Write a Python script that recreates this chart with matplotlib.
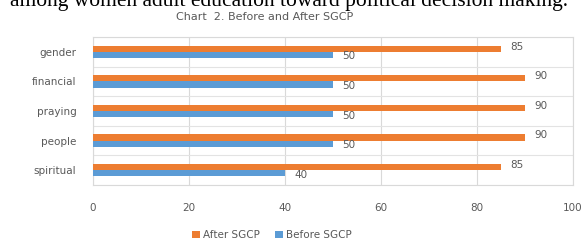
import matplotlib

matplotlib.use("Agg")

import matplotlib.pyplot as plt
import numpy as np

categories = ["spiritual", "people", "praying", "financial", "gender"]
after_sgcp = [85, 90, 90, 90, 85]
before_sgcp = [40, 50, 50, 50, 50]
x_ticks = [0, 20, 40, 60, 80, 100]

ORANGE = "#ED7D31"
BLUE = "#5B9BD5"
GRAY = "#595959"

W, H = 584, 247
fig = plt.figure(figsize=(W / 100, H / 100), dpi=100)
ax = fig.add_axes([93 / W, 1 - 185 / H, (573 - 93) / W, (185 - 37) / H])

y = np.arange(len(categories))
h = 0.21
ax.barh(y + h / 2, after_sgcp, height=h, color=ORANGE, label="After SGCP", zorder=3)
ax.barh(y - h / 2, before_sgcp, height=h, color=BLUE, label="Before SGCP", zorder=3)

for yi, v in zip(y, after_sgcp):
    ax.text(v + 2.0, yi + h / 2 + 0.07, str(v), fontsize=7.5, color=GRAY, va="center")
for yi, v in zip(y, before_sgcp):
    ax.text(v + 2.0, yi - h / 2 - 0.05, str(v), fontsize=7.5, color=GRAY, va="center")

ax.set_xlim(0, 100)
ax.set_ylim(-0.5, len(categories) - 0.5)
ax.set_xticks(x_ticks)
ax.set_yticks(y)
ax.set_yticklabels(categories)
ax.set_yticks(np.arange(-0.5, len(categories), 1), minor=True)
ax.tick_params(axis="both", which="both", length=0, labelsize=7.5, colors=GRAY)
ax.tick_params(axis="x", pad=13)
ax.tick_params(axis="y", pad=12)
ax.grid(True, axis="x", color="#D9D9D9", linewidth=0.8, zorder=0)
ax.grid(True, axis="y", which="minor", color="#E3E3E3", linewidth=0.8, zorder=0)
for s in ax.spines.values():
    s.set_color("#D9D9D9")
    s.set_linewidth(0.8)

# document text cropped at the top of the screenshot
fig.text(10 / W, 1 - 6 / H, "among women adult education toward political decision making.",
         fontsize=15.5, family="Liberation Serif", color="black", va="baseline")
fig.text(265 / W, 1 - 17 / H, "Chart  2. Before and After SGCP", fontsize=8,
         color=GRAY, ha="center", va="center")

handles, labels = ax.get_legend_handles_labels()
fig.legend(handles, labels, loc="center", bbox_to_anchor=(272 / W, 1 - 235 / H), ncol=2,
           frameon=False, fontsize=7.5, labelcolor=GRAY, handlelength=0.7,
           handleheight=0.7, handletextpad=0.3, columnspacing=1.5)

fig.savefig("out.png", dpi=100)
